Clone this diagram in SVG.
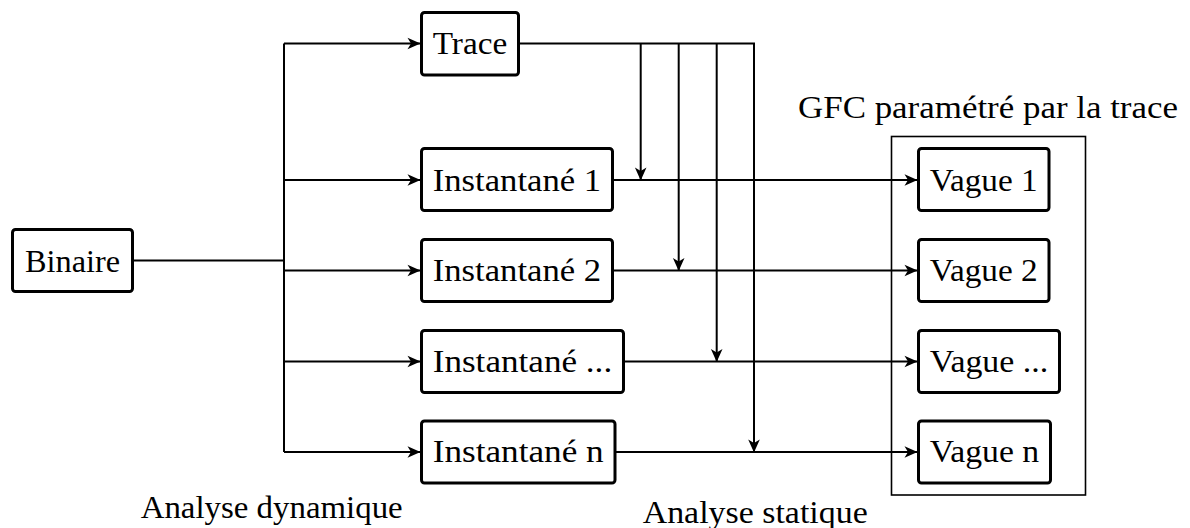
<svg xmlns="http://www.w3.org/2000/svg" width="1190" height="528" viewBox="0 0 1190 528">
<style>
.box{fill:#fff;stroke:#000;stroke-width:3}
.t{font-family:"Liberation Serif","Times New Roman",serif;font-size:31px;fill:#000}
.c{fill:none;stroke:#000;stroke-width:2}
</style>
<defs>
<marker id="ah" viewBox="-14 -7 15 14" refX="0" refY="0" markerWidth="15" markerHeight="14" markerUnits="userSpaceOnUse" orient="auto">
<path d="M0.5,0 L-12.5,-5.8 L-9,0 L-12.5,5.8 Z" fill="#000"/>
</marker>
</defs>
<rect width="1190" height="528" fill="#fff"/>
<g id="connectors">
<path class="c" d="M132,260.5 H284 M284,43.5 V452 M518,43.5 H754 V452"/>
<path class="c" d="M284,43.5 H420" marker-end="url(#ah)"/>
<path class="c" d="M284,180 H420" marker-end="url(#ah)"/>
<path class="c" d="M284,270.5 H420" marker-end="url(#ah)"/>
<path class="c" d="M284,361.5 H420" marker-end="url(#ah)"/>
<path class="c" d="M284,452 H420" marker-end="url(#ah)"/>
<path class="c" d="M640.7,43.5 V180" marker-end="url(#ah)"/>
<path class="c" d="M678.7,43.5 V270.5" marker-end="url(#ah)"/>
<path class="c" d="M716.7,43.5 V361.5" marker-end="url(#ah)"/>
<path class="c" d="M754,43.5 V452" marker-end="url(#ah)"/>
<path class="c" d="M612.5,180 H917" marker-end="url(#ah)"/>
<path class="c" d="M612.5,270.5 H917" marker-end="url(#ah)"/>
<path class="c" d="M623.5,361.5 H917" marker-end="url(#ah)"/>
<path class="c" d="M615,452 H917" marker-end="url(#ah)"/>
</g>
<g id="gfc">
<rect x="891.5" y="136.5" width="194" height="358.5" fill="none" stroke="#000" stroke-width="1.6"/>
<text class="t" x="798" y="118" textLength="380" lengthAdjust="spacingAndGlyphs">GFC paramétré par la trace</text>
</g>
<g id="binaire">
<rect class="box" x="12.5" y="229.5" width="120" height="62" rx="3"/>
<text class="t" x="25" y="271.7" textLength="95" lengthAdjust="spacingAndGlyphs">Binaire</text>
</g>
<g id="trace">
<rect class="box" x="421.5" y="12.5" width="97" height="62.5" rx="3"/>
<text class="t" x="432.7" y="54.3" textLength="74.6" lengthAdjust="spacingAndGlyphs">Trace</text>
</g>
<g id="inst1">
<rect class="box" x="421.5" y="148.5" width="191" height="62" rx="3"/>
<text class="t" x="432.7" y="190.7" textLength="168.5" lengthAdjust="spacingAndGlyphs">Instantané 1</text>
</g>
<g id="inst2">
<rect class="box" x="421.5" y="239.5" width="191" height="62" rx="3"/>
<text class="t" x="432.7" y="281.4" textLength="168.5" lengthAdjust="spacingAndGlyphs">Instantané 2</text>
</g>
<g id="inst3">
<rect class="box" x="421.5" y="330.5" width="202" height="62" rx="3"/>
<text class="t" x="432.7" y="372.4" textLength="179.5" lengthAdjust="spacingAndGlyphs">Instantané ...</text>
</g>
<g id="instn">
<rect class="box" x="421.5" y="421" width="193.5" height="62" rx="3"/>
<text class="t" x="432.7" y="462.4" textLength="171" lengthAdjust="spacingAndGlyphs">Instantané n</text>
</g>
<g id="vague1">
<rect class="box" x="918.5" y="148.5" width="130.5" height="62" rx="3"/>
<text class="t" x="929.7" y="190.7" textLength="108" lengthAdjust="spacingAndGlyphs">Vague 1</text>
</g>
<g id="vague2">
<rect class="box" x="918.5" y="239.5" width="130.5" height="62" rx="3"/>
<text class="t" x="929.7" y="281.4" textLength="108" lengthAdjust="spacingAndGlyphs">Vague 2</text>
</g>
<g id="vague3">
<rect class="box" x="918.5" y="330.5" width="141" height="62" rx="3"/>
<text class="t" x="929.7" y="372.4" textLength="118.5" lengthAdjust="spacingAndGlyphs">Vague ...</text>
</g>
<g id="vaguen">
<rect class="box" x="918.5" y="421" width="132" height="62" rx="3"/>
<text class="t" x="929.7" y="462.4" textLength="109.5" lengthAdjust="spacingAndGlyphs">Vague n</text>
</g>
<g id="labels">
<text class="t" x="140.7" y="518.3" textLength="262" lengthAdjust="spacingAndGlyphs">Analyse dynamique</text>
<text class="t" x="642.7" y="523.3" textLength="225" lengthAdjust="spacingAndGlyphs">Analyse statique</text>
</g>
</svg>
